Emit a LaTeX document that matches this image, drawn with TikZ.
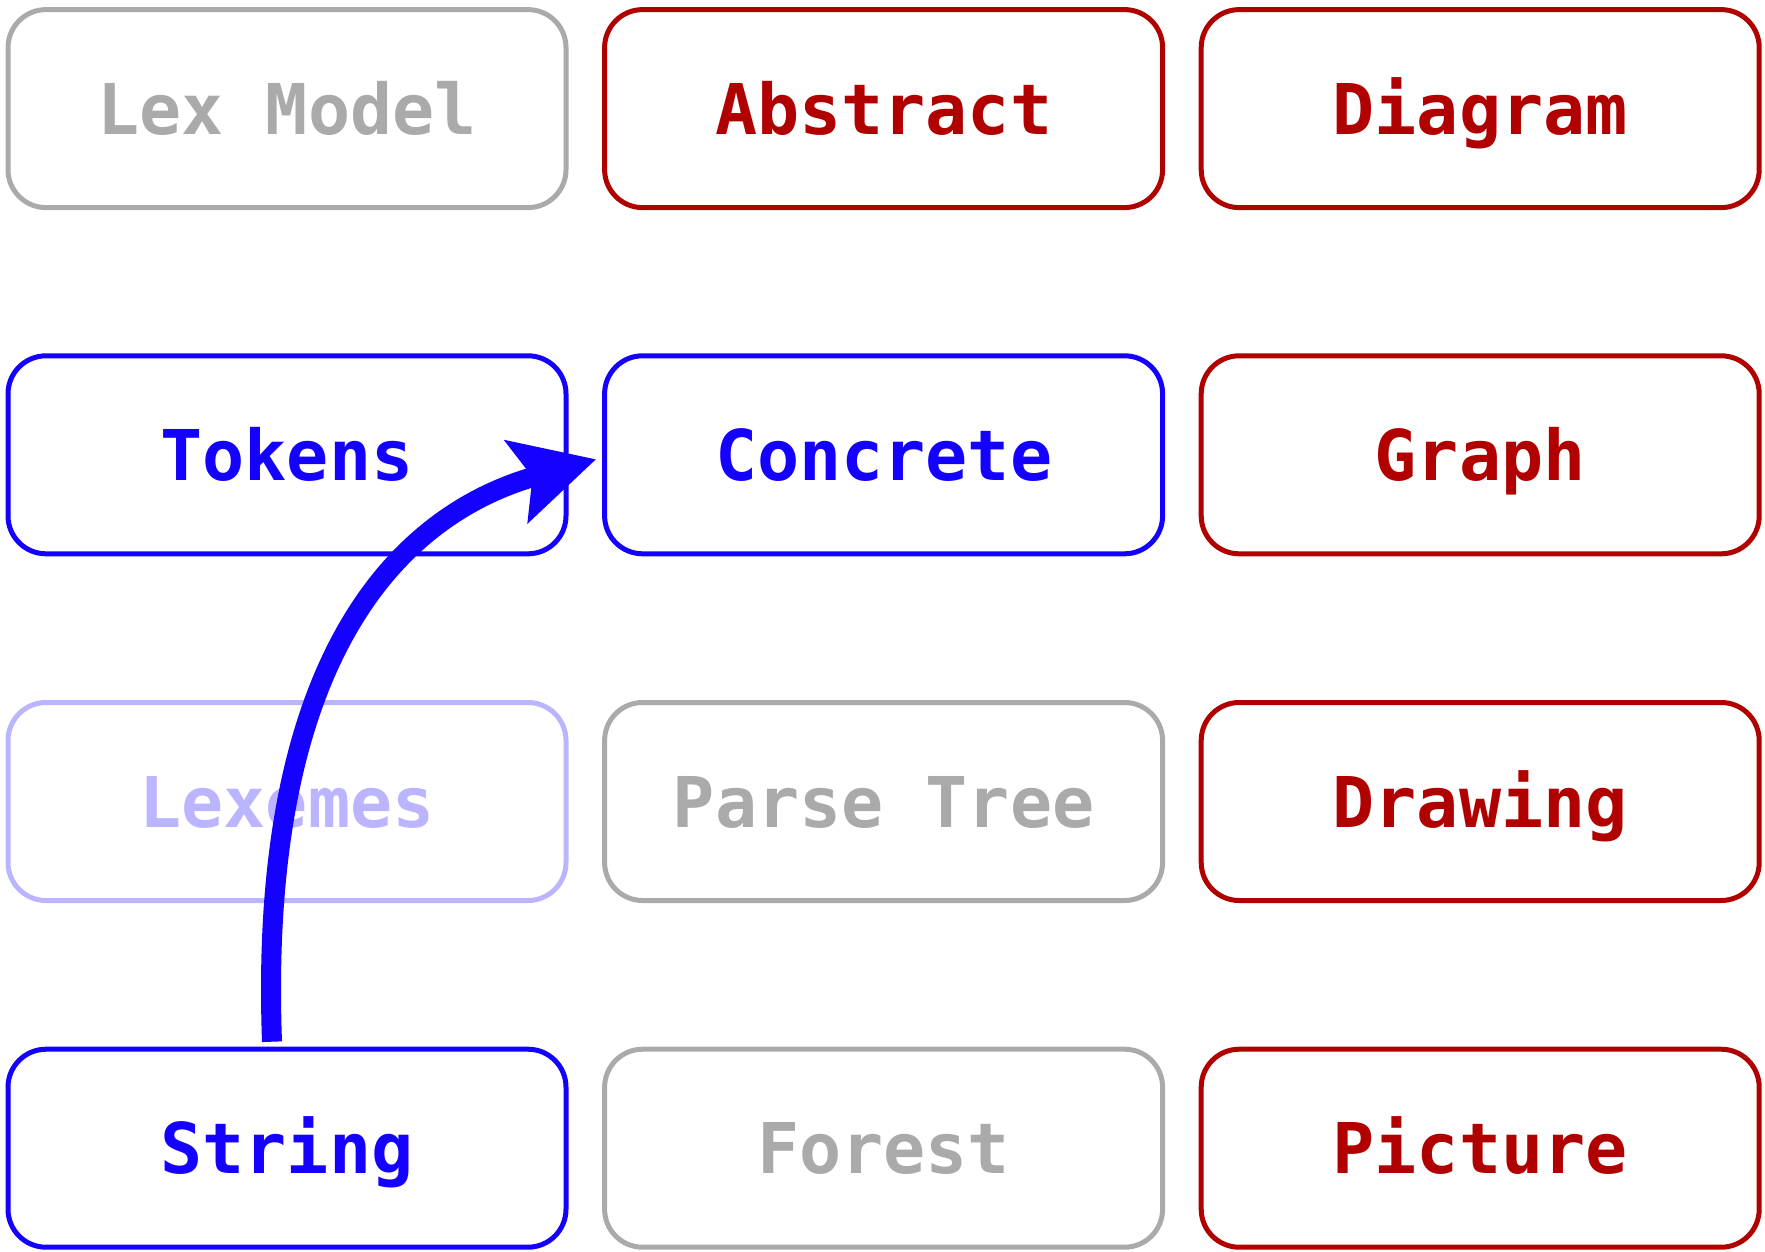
\documentclass[tikz,border=0pt]{standalone}
\usepackage{fontspec}
\newfontfamily\monob{DejaVu Sans Mono}
\usetikzlibrary{arrows.meta,calc}
\definecolor{cblue}{RGB}{20,0,255}
\definecolor{cred}{RGB}{176,0,0}
\definecolor{cgray}{RGB}{170,170,170}
\definecolor{clight}{RGB}{187,181,255}
\tikzset{
  box/.style={draw=#1, text=#1, line width=5pt, rounded corners=38pt,
    minimum width=558pt, minimum height=198pt, inner sep=0pt,
    font=\monob\bfseries\fontsize{70}{80}\selectfont,
    text height=51pt, text depth=0pt},
  flow/.style={draw=cblue, line width=20pt,
    -{Stealth[length=82pt,width=84pt,inset=16pt]}}
}
\begin{document}
\begin{tikzpicture}[x=1pt,y=-1pt]
\useasboundingbox (0,0) rectangle (1765,1251);
\node[box=cgray]  (lexmodel) at (287,108.6)    {Lex Model};
\node[box=cred]   (abstract) at (883.6,108.6)  {Abstract};
\node[box=cred]   (diagram)  at (1480.2,108.6) {Diagram};
\node[box=cblue]  (tokens)   at (287,454.8)    {Tokens};
\node[box=cblue]  (concrete) at (883.6,454.8)  {Concrete};
\node[box=cred]   (graph)    at (1480.2,454.8) {Graph};
\node[box=clight] (lexemes)  at (287,801.5)    {Lexemes};
\node[box=cgray]  (parse)    at (883.6,801.5)  {Parse Tree};
\node[box=cred]   (drawing)  at (1480.2,801.5) {Drawing};
\node[box=cblue]  (string)   at (287,1148.2)   {String};
\node[box=cgray]  (forest)   at (883.6,1148.2) {Forest};
\node[box=cred]   (picture)  at (1480.2,1148.2){Picture};
\coordinate (s) at ($(string.north)+(-15,-5)$);
\coordinate (e) at ($(concrete.west)+(-6,4.5)$);
\draw[flow] (s) .. controls ($(s)+(-14,-381)$) and ($(e)+(-200,56)$) .. (e);
\end{tikzpicture}
\end{document}
